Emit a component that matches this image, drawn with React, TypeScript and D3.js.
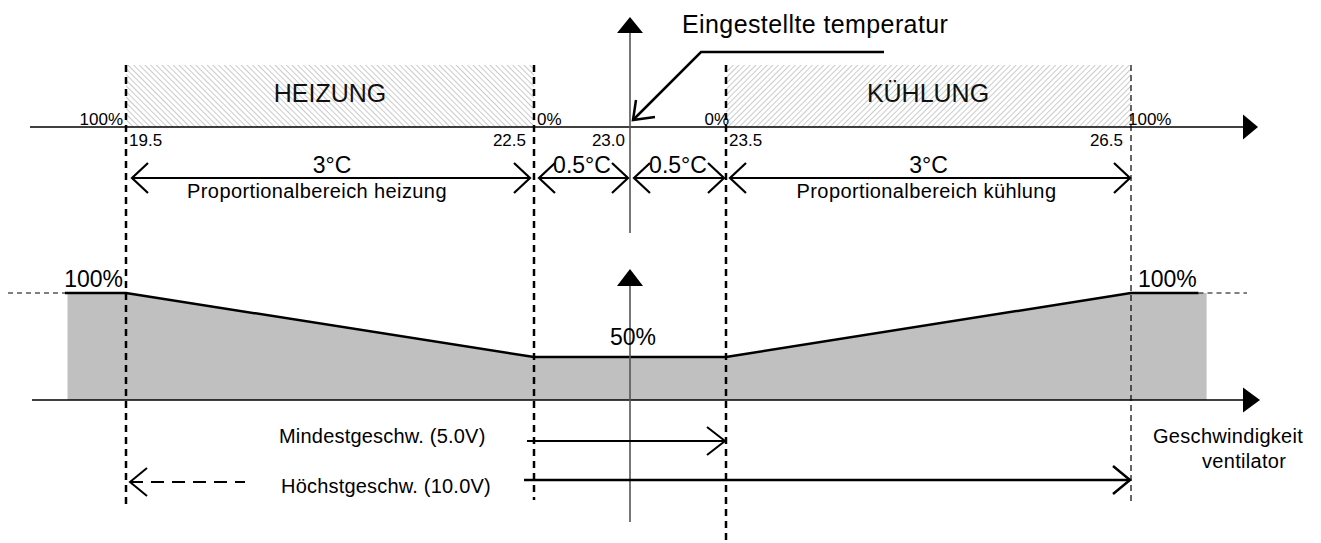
import React, { useEffect } from "react";
import * as d3 from "d3";

// ---- data ----
const tempTicks = [19.5, 22.5, 23.0, 23.5, 26.5];
const tempTickLabels = ["19.5", "22.5", "23.0", "23.5", "26.5"];
const outputTemps = [19.5, 22.5, 23.5, 26.5];
const outputLabels = ["100%", "0%", "0%", "100%"];
const zoneNames = ["HEIZUNG", "KÜHLUNG"];
const zoneBounds: [number, number][] = [[19.5, 22.5], [23.5, 26.5]];
const bandLabels = ["3°C", "0.5°C", "0.5°C", "3°C"];
const bandBounds: [number, number][] = [[19.5, 22.5], [22.5, 23.0], [23.0, 23.5], [23.5, 26.5]];
const bandSubLabels = ["Proportionalbereich heizung", "", "", "Proportionalbereich kühlung"];
const setpointLabel = "Eingestellte temperatur";
const fanLineTemps = [19.05, 19.5, 22.5, 23.5, 26.5, 27.0];
const fanLineSpeeds = [100, 100, 50, 50, 100, 100];
const fanAreaTemps = [19.07, 19.5, 22.5, 23.5, 26.5, 27.06];
const fanAreaSpeeds = [100, 100, 50, 50, 100, 100];
const speedLabels = ["100%", "50%", "100%"];
const minSpeedLabel = "Mindestgeschw. (5.0V)";
const maxSpeedLabel = "Höchstgeschw. (10.0V)";
const fanAxisLabel = ["Geschwindigkeit", "ventilator"];

const FONT = "'Liberation Sans', Arial, sans-serif";

// open arrow head (V) at tip, pointing in dir (+1 right, -1 left)
function openHead(tx: number, ty: number, dir: number, dx = 16, dy = 15) {
  return `M${tx - dir * dx},${ty - dy}L${tx},${ty}L${tx - dir * dx},${ty + dy}`;
}

export default function App() {
  useEffect(() => {
    document.body.style.margin = "0";
  }, []);

  const W = 1321, H = 543;
  const x = d3.scaleLinear().domain(tempTicks).range([126, 534, 630, 726, 1131]);
  const y = d3.scaleLinear().domain([0, 50, 100]).range([400, 357, 293]);
  const xc = x(23.0);

  const topAxisY = 127;
  const zoneTop = 65;
  const dimY = 178;

  const line = d3.line<number>().x((_, i) => x(fanLineTemps[i])).y((d) => y(d));
  const area = d3
    .area<number>()
    .x((_, i) => x(fanAreaTemps[i]))
    .y0(y(0))
    .y1((d) => y(d));

  const dashBottoms = [504, 500, 543, 503];
  const dashWidths = [2.5, 2.5, 2.5, 1.2];
  const dashArr = ["7,5", "7,5", "7,5", "6,4"];

  const bandOffsets: [number, number][] = [[6, -4], [5, -2], [4, -2], [4, -1]];

  return (
    <svg width={W} height={H} style={{ display: "block", background: "#fff" }} fontFamily={FONT}>
      <defs>
        <pattern id="hatchL" width="4" height="4" patternUnits="userSpaceOnUse" patternTransform="rotate(-45)">
          <line x1="0" y1="0" x2="0" y2="4" stroke="#b4b4b4" strokeWidth="1.4" />
        </pattern>
        <pattern id="hatchR" width="4" height="4" patternUnits="userSpaceOnUse" patternTransform="rotate(45)">
          <line x1="0" y1="0" x2="0" y2="4" stroke="#b4b4b4" strokeWidth="1.4" />
        </pattern>
      </defs>

      {/* hatched zones */}
      {zoneBounds.map(([a, b], i) => (
        <g key={"z" + i}>
          <rect x={x(a)} y={zoneTop} width={x(b) - x(a)} height={topAxisY - zoneTop} fill={`url(#${i === 0 ? "hatchL" : "hatchR"})`} />
          <text x={(x(a) + x(b)) / 2 + (i === 0 ? 0 : -0.5)} y={102} fontSize={25} textAnchor="middle" fill="#111">
            {zoneNames[i]}
          </text>
        </g>
      ))}

      {/* fan area */}
      <path d={area(fanAreaSpeeds) || ""} fill="#c0c0c0" />
      <path d={line(fanLineSpeeds) || ""} fill="none" stroke="#000" strokeWidth={2.5} strokeLinejoin="round" />
      <line x1={8} x2={x(fanLineTemps[0])} y1={y(100)} y2={y(100)} stroke="#000" strokeWidth={1} strokeDasharray="5,4" />
      <line x1={x(fanLineTemps[fanLineTemps.length - 1])} x2={1247} y1={y(100)} y2={y(100)} stroke="#000" strokeWidth={1} strokeDasharray="5,4" />

      {/* top axis */}
      <line x1={30} x2={1244} y1={topAxisY} y2={topAxisY} stroke="#000" strokeWidth={1.5} />
      <path d={`M1243,${topAxisY - 12.5}L1258,${topAxisY}L1243,${topAxisY + 12.5}Z`} fill="#000" />
      {/* bottom axis */}
      <line x1={32} x2={1244} y1={y(0)} y2={y(0)} stroke="#000" strokeWidth={1.5} />
      <path d={`M1243,${y(0) - 12.5}L1260,${y(0)}L1243,${y(0) + 12.5}Z`} fill="#000" />

      {/* vertical axes */}
      <line x1={xc} x2={xc} y1={233} y2={32} stroke="#555" strokeWidth={1.6} />
      <path d={`M${xc - 13},33L${xc},17L${xc + 13},33Z`} fill="#000" />
      <line x1={xc} x2={xc} y1={522} y2={285} stroke="#555" strokeWidth={1.6} />
      <path d={`M${xc - 13},286L${xc},269L${xc + 13},286Z`} fill="#000" />

      {/* dashed verticals */}
      {outputTemps.map((t, i) => (
        <line key={"d" + i} x1={x(t)} x2={x(t)} y1={zoneTop} y2={dashBottoms[i]} stroke="#000" strokeWidth={dashWidths[i]} strokeDasharray={dashArr[i]} />
      ))}

      {/* output % labels on top axis */}
      {outputTemps.map((t, i) => (
        <text key={"o" + i} x={x(t) + (i % 2 === 0 ? -3 : 3) * (i < 2 ? 1 : -1)} y={125} fontSize={17} textAnchor={i === 0 || i === 2 ? "end" : "start"}>
          {outputLabels[i]}
        </text>
      ))}

      {/* temperature labels */}
      {tempTicks.map((t, i) => {
        const start = i === 0 || i === 3;
        return (
          <text key={"t" + i} x={start ? x(t) + 3 : x(t) - (i === 2 ? 5 : 8)} y={146} fontSize={17} textAnchor={start ? "start" : "end"}>
            {tempTickLabels[i]}
          </text>
        );
      })}

      {/* dimension arrows */}
      {bandBounds.map(([a, b], i) => {
        const x1 = x(a) + bandOffsets[i][0];
        const x2 = x(b) + bandOffsets[i][1];
        return (
          <g key={"b" + i} stroke="#000" strokeWidth={2.2} fill="none">
            <line x1={x1} x2={x2} y1={dimY} y2={dimY} />
            <path d={openHead(x1, dimY, -1)} />
            <path d={openHead(x2, dimY, 1)} />
          </g>
        );
      })}
      {bandBounds.map(([a, b], i) => (
        <text key={"bl" + i} x={(x(a) + x(b)) / 2 + (i === 0 ? 2 : 0)} y={173} fontSize={23} textAnchor="middle">
          {bandLabels[i]}
        </text>
      ))}
      {bandBounds.map(([a, b], i) =>
        bandSubLabels[i] ? (
          <text key={"bs" + i} x={(x(a) + x(b)) / 2 + (i === 0 ? -13 : -2)} y={198} fontSize={20} textAnchor="middle" letterSpacing={0.4}>
            {bandSubLabels[i]}
          </text>
        ) : null
      )}

      {/* setpoint pointer */}
      <g stroke="#000" strokeWidth={2.5} fill="none" strokeLinejoin="miter">
        <path d={`M884,52L701,52L${xc + 3},120`} />
        <path d={`M${xc + 6},100L${xc + 3},120L${xc + 25},117`} />
      </g>
      <text x={682} y={33} fontSize={25} letterSpacing={0.4}>
        {setpointLabel}
      </text>

      {/* speed labels */}
      <text x={x(19.5) - 3} y={287} fontSize={23} textAnchor="end">{speedLabels[0]}</text>
      <text x={xc + 3} y={345} fontSize={23} textAnchor="middle">{speedLabels[1]}</text>
      <text x={x(26.5) + 7} y={287} fontSize={23} textAnchor="start">{speedLabels[2]}</text>

      {/* min speed arrow */}
      <text x={279} y={443} fontSize={20} letterSpacing={0.2}>{minSpeedLabel}</text>
      <g stroke="#000" strokeWidth={2} fill="none">
        <line x1={x(22.5) - 7} x2={x(23.5) - 1} y1={441} y2={441} />
        <path d={openHead(x(23.5) - 1, 441, 1, 18, 14)} />
      </g>

      {/* max speed arrow */}
      <text x={281} y={493} fontSize={20} letterSpacing={0.2}>{maxSpeedLabel}</text>
      <g stroke="#000" strokeWidth={2.5} fill="none">
        <line x1={x(22.5) - 10} x2={x(26.5) - 1} y1={480} y2={480} />
        <path d={openHead(x(26.5) - 1, 480, 1, 17, 14)} />
      </g>
      <g stroke="#000" strokeWidth={2} fill="none">
        <line x1={x(19.5) + 4} x2={245} y1={482} y2={482} strokeDasharray="13,8" />
        <path d={openHead(x(19.5) + 4, 482, -1, 17, 14)} />
      </g>

      {/* fan axis label */}
      <text x={1153} y={443} fontSize={20} letterSpacing={0.3}>{fanAxisLabel[0]}</text>
      <text x={1202} y={468} fontSize={20} letterSpacing={0.3}>{fanAxisLabel[1]}</text>
    </svg>
  );
}
